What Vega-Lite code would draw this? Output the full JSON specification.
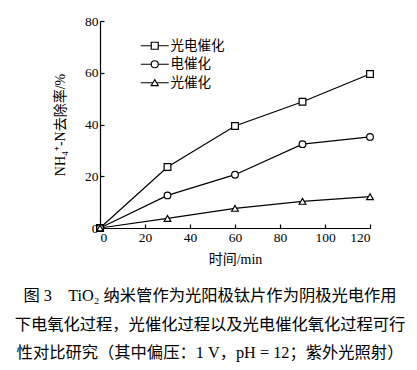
{
  "$schema": "https://vega.github.io/schema/vega-lite/v6.json",
  "width": 270,
  "height": 207,
  "autosize": {"type": "none"},
  "padding": {"left": 100, "top": 21, "right": 47, "bottom": 142},
  "background": "white",
  "config": {
    "font": "Liberation Serif, Noto Sans CJK SC",
    "view": {"stroke": null},
    "axis": {"grid": false, "domainColor": "black", "tickColor": "black", "labelColor": "black", "titleColor": "black", "labelFont": "Liberation Serif, Noto Sans CJK SC", "titleFont": "Liberation Serif, Noto Sans CJK SC", "labelFontSize": 13.5, "titleFontSize": 14, "titleFontWeight": "normal", "domainWidth": 1.2, "tickWidth": 1.2}
  },
  "title": {
    "text": ["图 3　TiO₂ 纳米管作为光阳极钛片作为阴极光电作用", "下电氧化过程，光催化过程以及光电催化氧化过程可行", "性对比研究（其中偏压：1 V，pH = 12；紫外光照射）"],
    "orient": "bottom",
    "anchor": "middle",
    "fontSize": 16.3,
    "fontWeight": "normal",
    "font": "Liberation Serif, Noto Sans CJK SC",
    "color": "black",
    "lineHeight": 28.5,
    "offset": 22,
    "dx": -25
  },
  "data": {"values": [
    {"t": 0, "v": 0, "s": "光电催化"},
    {"t": 30, "v": 23.6, "s": "光电催化"},
    {"t": 60, "v": 39.4, "s": "光电催化"},
    {"t": 90, "v": 48.8, "s": "光电催化"},
    {"t": 120, "v": 59.5, "s": "光电催化"},
    {"t": 0, "v": 0, "s": "电催化"},
    {"t": 30, "v": 12.6, "s": "电催化"},
    {"t": 60, "v": 20.6, "s": "电催化"},
    {"t": 90, "v": 32.4, "s": "电催化"},
    {"t": 120, "v": 35.2, "s": "电催化"},
    {"t": 0, "v": 0, "s": "光催化"},
    {"t": 30, "v": 3.7, "s": "光催化"},
    {"t": 60, "v": 7.6, "s": "光催化"},
    {"t": 90, "v": 10.3, "s": "光催化"},
    {"t": 120, "v": 12.1, "s": "光催化"}
  ]},
  "encoding": {
    "x": {"field": "t", "type": "quantitative", "scale": {"domain": [0, 120]},
      "axis": {"title": "时间/min", "values": [0, 20, 40, 60, 80, 100, 120], "tickSize": -4, "labelPadding": 6, "titleX": 135, "titleY": 31, "titleBaseline": "middle", "titleAnchor": null, "titleAlign": "center"}},
    "y": {"field": "v", "type": "quantitative", "scale": {"domain": [0, 80]},
      "axis": {"title": "NH₄⁺-N去除率/%", "values": [0, 20, 40, 60, 80], "tickSize": -4, "labelPadding": 6, "titleX": -40, "titleY": 103.5, "titleAngle": -90, "titleBaseline": "middle", "titleAlign": "center", "titleAnchor": null}}
  },
  "layer": [
    {"mark": {"type": "line", "color": "black", "strokeWidth": 1.2}, "encoding": {"detail": {"field": "s"}}},
    {"mark": {"type": "point", "filled": false, "fill": "white", "fillOpacity": 1, "stroke": "black", "strokeWidth": 1.2, "opacity": 1, "size": 45},
      "encoding": {"shape": {"field": "s", "type": "nominal", "scale": {"domain": ["光电催化", "电催化", "光催化"], "range": ["square", "circle", "triangle-up"]}, "legend": null}}},
    {"mark": {"type": "point", "opacity": 0, "size": 49},
      "encoding": {"shape": {"field": "s", "type": "nominal",
        "scale": {"domain": ["光电催化", "电催化", "光催化"], "range": ["M-4,0H-1M1,0H4M-1,-1H1V1H-1Z", "M-4,0H-1M1,0H4M-1,0A1,1,0,1,0,1,0A1,1,0,1,0,-1,0Z", "M-4,0H-0.6M0.6,0H4M0,-0.9L1,0.8H-1Z"]},
        "legend": {"title": null, "orient": "none", "legendX": 37, "legendY": 18, "symbolOffset": 11, "labelOffset": 9, "symbolOpacity": 1, "symbolFillColor": "white", "symbolStrokeColor": "black", "symbolStrokeWidth": 1.2, "symbolSize": 49, "labelFontSize": 13.5, "labelColor": "black", "labelFont": "Liberation Serif, Noto Sans CJK SC", "rowPadding": 3.5}}}}
  ],
  "resolve": {"scale": {"shape": "independent"}}
}
